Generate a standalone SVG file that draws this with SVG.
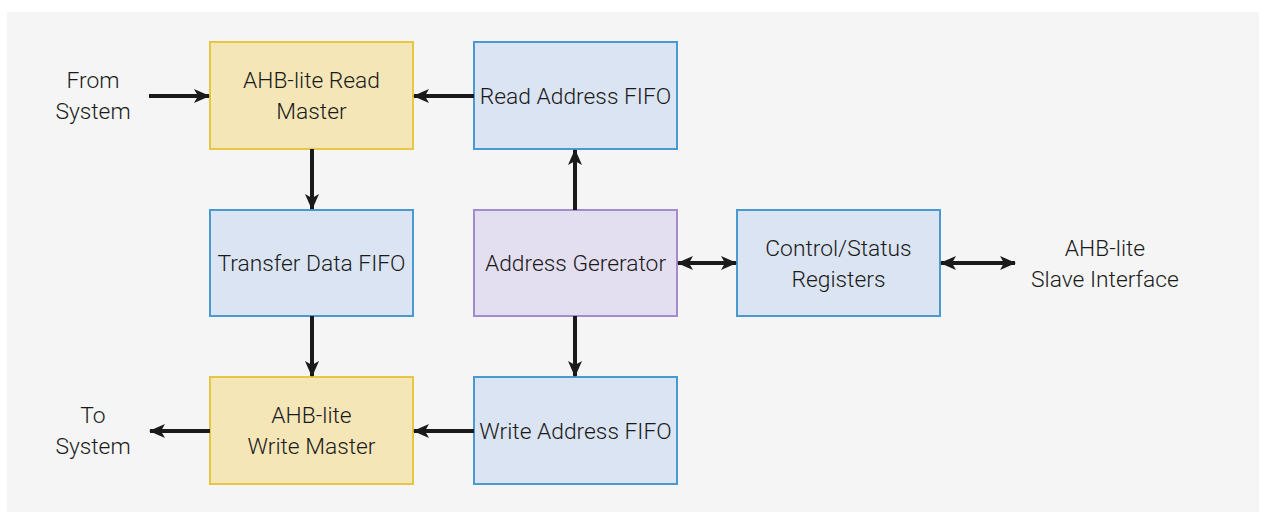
<svg xmlns="http://www.w3.org/2000/svg" width="1271" height="525" viewBox="0 0 1271 525">
<defs>
<marker id="ah" viewBox="0 0 16 14" refX="15" refY="7" markerWidth="16" markerHeight="14" markerUnits="userSpaceOnUse" orient="auto-start-reverse">
<path d="M0,0 L16,7 L0,14 L4,7 Z" fill="#1a1a1a"/>
</marker>
<style>
.t{font-family:Roboto,"Liberation Sans",sans-serif;font-weight:300;font-size:22.8px;fill:#1a1a1a;text-anchor:middle}
.y{fill:#f5e6b8;stroke:#e6c645;stroke-width:2}
.b{fill:#dae4f2;stroke:#4a9ad0;stroke-width:2}
.p{fill:#e3dff0;stroke:#a48ccc;stroke-width:2}
.c{stroke:#1a1a1a;stroke-width:4;fill:none}
</style>
</defs>
<rect x="0" y="0" width="1271" height="525" fill="#ffffff"/>
<rect x="7" y="12" width="1252" height="500" fill="#f5f5f5"/>
<g id="readMaster"><rect class="y" x="210" y="42" width="203" height="107"/><text class="t" x="311.5" y="88">AHB-lite Read</text><text class="t" x="311.5" y="119">Master</text></g>
<g id="readFifo"><rect class="b" x="474" y="42" width="203" height="107"/><text class="t" x="575.5" y="104">Read Address FIFO</text></g>
<g id="transferFifo"><rect class="b" x="210" y="210" width="203" height="106"/><text class="t" x="311.5" y="271">Transfer Data FIFO</text></g>
<g id="addrGen"><rect class="p" x="474" y="210" width="203" height="106"/><text class="t" x="575.5" y="271">Address Gererator</text></g>
<g id="ctrl"><rect class="b" x="737" y="210" width="203" height="106"/><text class="t" x="838.5" y="256">Control/Status</text><text class="t" x="838.5" y="287">Registers</text></g>
<g id="writeMaster"><rect class="y" x="210" y="377" width="203" height="107"/><text class="t" x="311.5" y="423">AHB-lite</text><text class="t" x="311.5" y="454">Write Master</text></g>
<g id="writeFifo"><rect class="b" x="474" y="377" width="203" height="107"/><text class="t" x="575.5" y="439">Write Address FIFO</text></g>
<g id="fromSys"><text class="t" x="93" y="88">From</text><text class="t" x="93" y="119">System</text></g>
<g id="toSys"><text class="t" x="93" y="423">To</text><text class="t" x="93" y="454">System</text></g>
<g id="slave"><text class="t" x="1105" y="256">AHB-lite</text><text class="t" x="1105" y="287">Slave Interface</text></g>
<g id="connectors">
<line class="c" x1="149" y1="96" x2="209" y2="96" marker-end="url(#ah)"/>
<line class="c" x1="474" y1="96" x2="414" y2="96" marker-end="url(#ah)"/>
<line class="c" x1="312" y1="149" x2="312" y2="209" marker-end="url(#ah)"/>
<line class="c" x1="312" y1="316" x2="312" y2="376" marker-end="url(#ah)"/>
<line class="c" x1="575" y1="210" x2="575" y2="150" marker-end="url(#ah)"/>
<line class="c" x1="575" y1="316" x2="575" y2="376" marker-end="url(#ah)"/>
<line class="c" x1="474" y1="431" x2="414" y2="431" marker-end="url(#ah)"/>
<line class="c" x1="210" y1="431" x2="150" y2="431" marker-end="url(#ah)"/>
<line class="c" x1="678" y1="263" x2="736" y2="263" marker-start="url(#ah)" marker-end="url(#ah)"/>
<line class="c" x1="941" y1="263" x2="1015" y2="263" marker-start="url(#ah)" marker-end="url(#ah)"/>
</g>
</svg>
